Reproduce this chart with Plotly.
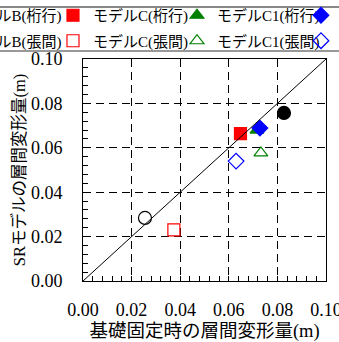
import plotly.graph_objects as go

# ---- data ----
series_names = ["モデルB(桁行)", "モデルB(張間)", "モデルC(桁行)", "モデルC(張間)",
                "モデルC1(桁行)", "モデルC1(張間)", "モデルD(桁行)", "モデルD(張間)"]
x_vals = [0.0827, 0.0255, 0.0648, 0.0374, 0.0716, 0.0732, 0.0728, 0.0630]
y_vals = [0.0757, 0.0284, 0.0664, 0.0230, 0.0680, 0.0577, 0.0689, 0.0540]
colors = ["black", "black", "#ff0000", "#ff0000", "#008000", "#008000", "#0000ff", "#0000ff"]
symbols = ["circle", "circle-open", "square", "square-open",
           "triangle-up", "triangle-up-open", "diamond", "diamond-open"]
sizes = [13, 13, 12, 12, 12, 12, 12, 12]
legend_ids = ["legend", "legend", "legend2", "legend2", "legend3", "legend3", "legend4", "legend4"]
diag = [0.0, 0.1]
tick_vals = [0.0, 0.02, 0.04, 0.06, 0.08, 0.10]

FONT = "Liberation Serif, Times New Roman, Noto Sans CJK JP, serif"

fig = go.Figure()
for i, (name, xv, yv, c, s, sz, lg) in enumerate(zip(series_names, x_vals, y_vals, colors, symbols, sizes, legend_ids)):
    fig.add_trace(go.Scatter(
        x=[xv], y=[yv], mode="markers", name=name, legend=lg, legendgroup="g%d" % i,
        marker=dict(color=c, symbol=s, size=sz, line=dict(color=c, width=1.2)),
    ))

fig.add_trace(go.Scatter(x=diag, y=diag, mode="lines", showlegend=False,
                         line=dict(color="black", width=1)))

axis_common = dict(
    range=[0, 0.1], tickvals=tick_vals, tickformat=".2f",
    ticks="inside", ticklen=5, tickcolor="black", tickwidth=1,
    showline=True, linecolor="black", linewidth=1, mirror=True,
    showgrid=True, gridcolor="black", gridwidth=1, griddash="8px,5px",
    zeroline=False, ticklabeloverflow="allow",
    minor=dict(dtick=0.004, ticks="inside", ticklen=5, tickcolor="black", showgrid=False),
    tickfont=dict(family=FONT, size=18, color="black"),
)

fig.update_layout(
    width=339, height=342,
    margin=dict(l=83, r=13, t=59, b=61, autoexpand=False),
    plot_bgcolor="white", paper_bgcolor="white",
    font=dict(family=FONT, color="black"),
    xaxis=dict(**axis_common, ticklabelstandoff=12,
               title=dict(text="基礎固定時の層間変形量(m)", standoff=7,
                          font=dict(family=FONT, size=18.5, color="black"))),
    yaxis=dict(**axis_common, ticklabelstandoff=16,
               title=dict(text="SRモデルの層間変形量(m)", standoff=1,
                          font=dict(family=FONT, size=16.5, color="black"))),
)

leg_common = dict(orientation="v", yanchor="top", xanchor="left", y=1.2703,
                  bgcolor="rgba(0,0,0,0)", borderwidth=0, tracegroupgap=3,
                  traceorder="grouped",
                  font=dict(family=FONT, size=15, color="black"))
fig.update_layout(
    legend=dict(**leg_common, x=-0.6436),
    legend2=dict(**leg_common, x=-0.1235),
    legend3=dict(**leg_common, x=0.3868),
    legend4=dict(**leg_common, x=0.8971),
    shapes=[
        dict(type="line", xref="paper", yref="paper", x0=-1, x1=2, y0=1.234, y1=1.234,
             line=dict(color="#888888", width=2)),
        dict(type="line", xref="paper", yref="paper", x0=-1, x1=2, y0=1.036, y1=1.036,
             line=dict(color="#333333", width=1)),
    ],
)

fig.write_html("out.html", config={"displayModeBar": False},
               post_script="document.body.style.margin='0px';")
